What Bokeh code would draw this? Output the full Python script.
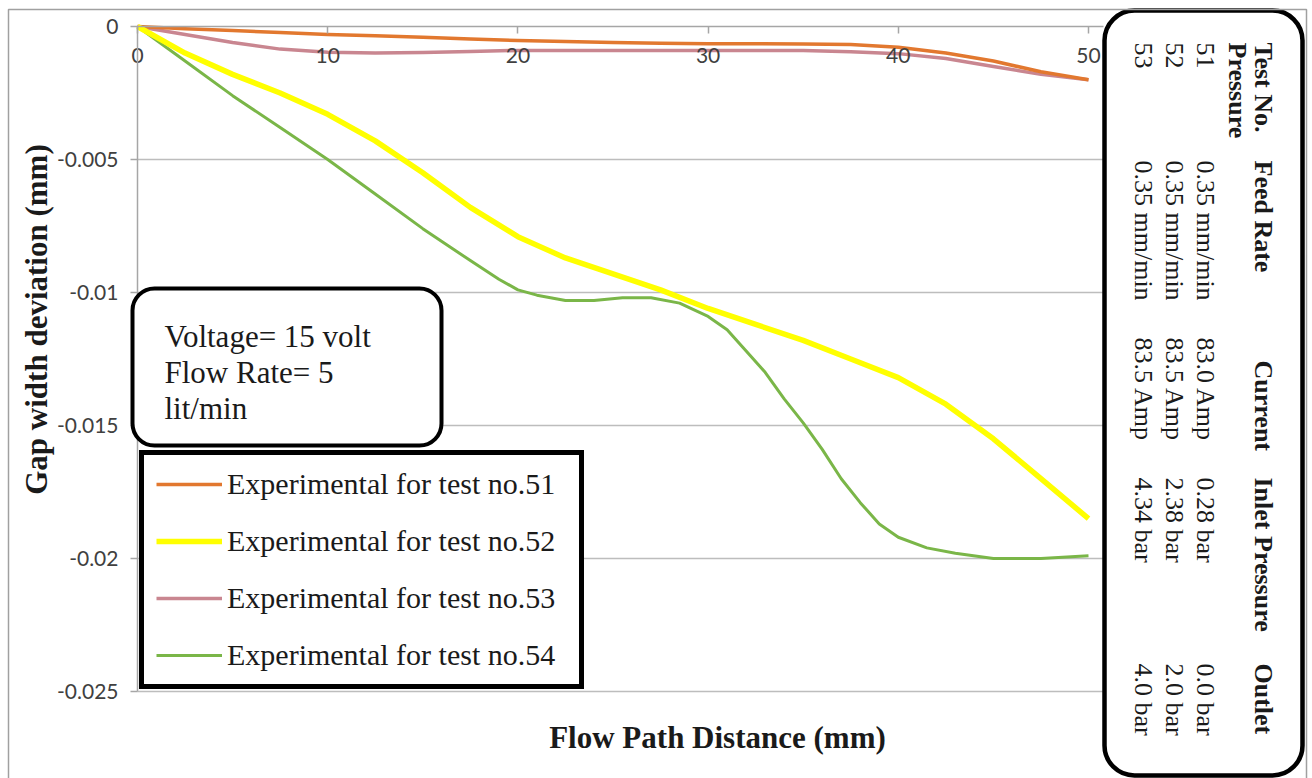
import math

from bokeh.embed import file_html
from bokeh.models import (BoxAnnotation, FixedTicker, Label, LinearAxis, Legend,
                          LegendItem, Range1d)
from bokeh.plotting import figure
from bokeh.resources import INLINE

# ---- data -------------------------------------------------------------
distance = [0, 2.5, 5, 7.5, 10, 12.5, 15, 17.5, 20, 22.5, 25,
            27.5, 30, 32.5, 35, 37.5, 40, 42.5, 45, 47.5, 50]

test51 = [0, -0.00008, -0.00015, -0.00023, -0.0003, -0.00035, -0.0004,
          -0.00047, -0.00053, -0.00056, -0.0006, -0.00063, -0.00065,
          -0.00065, -0.00066, -0.00068, -0.00078, -0.001, -0.0013,
          -0.0017, -0.002]
test52 = [0, -0.0010, -0.0018, -0.0025, -0.0033, -0.0043, -0.0055,
          -0.0068, -0.0079, -0.0087, -0.0093, -0.0099, -0.0106,
          -0.0112, -0.0118, -0.0125, -0.0132, -0.0142, -0.0155,
          -0.0170, -0.0185]
test53 = [0, -0.0003, -0.0006, -0.00085, -0.00097, -0.001, -0.00098,
          -0.00094, -0.0009, -0.0009, -0.0009, -0.0009, -0.0009,
          -0.0009, -0.0009, -0.00095, -0.00102, -0.0012, -0.0015,
          -0.0018, -0.002]

distance54 = [0, 2.5, 5, 7.5, 10, 12.5, 15, 17.5, 19, 20, 21, 22.5, 24,
              25.5, 27, 28.5, 30, 31, 32, 33, 34, 35, 36, 37, 38, 39, 40,
              41.5, 43, 45, 47.5, 50]
test54 = [0, -0.0013, -0.0026, -0.0038, -0.0050, -0.0063, -0.0076,
          -0.0088, -0.0095, -0.0099, -0.0101, -0.0103, -0.0103, -0.0102,
          -0.0102, -0.0104, -0.0109, -0.0114, -0.0122, -0.0130, -0.0140,
          -0.0149, -0.0159, -0.0170, -0.0179, -0.0187, -0.0192, -0.0196,
          -0.0198, -0.0200, -0.0200, -0.0199]

series_labels = ["Experimental for test no.51", "Experimental for test no.52",
                 "Experimental for test no.53", "Experimental for test no.54"]

x_ticks = [0, 10, 20, 30, 40, 50]
y_ticks = [0, -0.005, -0.01, -0.015, -0.02, -0.025]
y_tick_labels = {0: "0", -0.005: "-0.005", -0.01: "-0.01",
                 -0.015: "-0.015", -0.02: "-0.02", -0.025: "-0.025"}

# test-conditions table
table_header = ["Test No.", "Feed Rate", "Current", "Inlet Pressure", "Outlet"]
table_header2 = "Pressure"
test_no = ["51", "52", "53"]
feed_rate = ["0.35 mm/min", "0.35 mm/min", "0.35 mm/min"]
current = ["83.0 Amp", "83.5 Amp", "83.5 Amp"]
inlet_pressure = ["0.28 bar", "2.38 bar", "4.34 bar"]
outlet_pressure = ["0.0 bar", "2.0 bar", "4.0 bar"]

conditions = ["Voltage= 15 volt", "Flow Rate= 5", "lit/min"]

# ---- canvas geometry --------------------------------------------------
W, H = 1312, 778
X0_PX, X50_PX = 137, 1088      # pixel columns of x = 0 and x = 50
Y0_PX, Y25_PX = 26, 691        # pixel rows of y = 0 and y = -0.025
SX = (X50_PX - X0_PX) / 50.0
SY = (Y25_PX - Y0_PX) / 0.025


def dx(px):
    return (px - X0_PX) / SX


def dy(py):
    return -(py - Y0_PX) / SY


SERIF = "Liberation Serif"
SANS = "Lato"
GRID = "#bdbdbd"
AXIS = "#a6a6a6"
TICK_TEXT = "#404040"
INK = "#1a1a1a"

p = figure(width=W, height=H, x_range=Range1d(dx(0), dx(W)),
           y_range=Range1d(dy(H), dy(0)), x_axis_type=None, y_axis_type=None,
           toolbar_location=None, output_backend="svg", min_border=0,
           outline_line_color=None, background_fill_color="white",
           border_fill_color="white")

# horizontal gridlines, running under the conditions table
grid_y = y_ticks[1:]
p.segment(x0=[0] * len(grid_y), x1=[dx(1103)] * len(grid_y),
          y0=grid_y, y1=grid_y, line_color=GRID, line_width=1.5)

# axes crossing at the origin: x along the top, y down the left
xaxis = LinearAxis(fixed_location=0, ticker=FixedTicker(ticks=x_ticks),
                   bounds=(0, dx(1103)))
yaxis = LinearAxis(fixed_location=0, ticker=FixedTicker(ticks=y_ticks),
                   bounds=(y_ticks[-1], 0),
                   major_label_overrides=y_tick_labels)
for ax in (xaxis, yaxis):
    ax.axis_line_color = AXIS
    ax.axis_line_width = 1.5
    ax.major_tick_line_color = AXIS
    ax.major_tick_line_width = 1.5
    ax.major_tick_in = 0
    ax.major_tick_out = 7
    ax.minor_tick_line_color = None
    ax.major_label_text_font = SANS
    ax.major_label_text_font_size = "21px"
    ax.major_label_text_color = TICK_TEXT
xaxis.major_label_standoff = 14
yaxis.major_label_standoff = 12
p.add_layout(xaxis, "below")
p.add_layout(yaxis, "left")

# measured curves
r53 = p.line(distance, test53, line_color="#c98690", line_width=3.5,
             line_join="round")
r51 = p.line(distance, test51, line_color="#e2782f", line_width=3.5,
             line_join="round")
r54 = p.line(distance54, test54, line_color="#7ab648", line_width=3,
             line_join="round")
r52 = p.line(distance, test52, line_color="#ffff00", line_width=5.5,
             line_join="round")

legend = Legend(items=[LegendItem(label=series_labels[0], renderers=[r51]),
                       LegendItem(label=series_labels[1], renderers=[r52]),
                       LegendItem(label=series_labels[2], renderers=[r53]),
                       LegendItem(label=series_labels[3], renderers=[r54])],
                location=(139, H - 689), orientation="vertical",
                label_text_font=SERIF, label_text_font_size="30px",
                label_text_color=INK, label_standoff=5,
                glyph_width=66, glyph_height=34, label_height=34,
                label_width=340, spacing=23, padding=12, margin=0,
                border_line_color="black", border_line_alpha=1.0,
                border_line_width=5,
                background_fill_color="white", background_fill_alpha=1.0)
p.add_layout(legend)

# operating conditions box
p.add_layout(BoxAnnotation(left=dx(132), right=dx(441), top=dy(288),
                           bottom=dy(445), fill_color="white", fill_alpha=1,
                           line_color="black", line_alpha=1, line_width=4,
                           border_radius=22))
for i, line in enumerate(conditions):
    p.add_layout(Label(x=dx(164), y=dy(336 + 36 * i), text=line,
                       text_font=SERIF, text_font_size="31px",
                       text_color=INK, text_baseline="alphabetic"))

# test-conditions table, written sideways
p.add_layout(BoxAnnotation(left=dx(1104), right=dx(1302), top=dy(10),
                           bottom=dy(775), fill_color="white", fill_alpha=1,
                           line_color="black", line_alpha=1, line_width=4.5,
                           border_radius=30))
col_start = [42, 160, 337, 477, 663]
header_cols = [42, 160, 360, 477, 663]
for text, start in zip(table_header, header_cols):
    p.add_layout(Label(x=dx(1263), y=dy(start), text=text, angle=-math.pi / 2,
                       text_font=SERIF, text_font_size="26px",
                       text_font_style="bold", text_color=INK,
                       text_align="left", text_baseline="middle"))
p.add_layout(Label(x=dx(1237), y=dy(42), text=table_header2,
                   angle=-math.pi / 2, text_font=SERIF,
                   text_font_size="26px", text_font_style="bold",
                   text_color=INK, text_align="left",
                   text_baseline="middle"))
row_x = [1205, 1174, 1143]
for i, xr in enumerate(row_x):
    cells = [test_no[i], feed_rate[i], current[i], inlet_pressure[i],
             outlet_pressure[i]]
    for text, start in zip(cells, col_start):
        p.add_layout(Label(x=dx(xr), y=dy(start), text=text,
                           angle=-math.pi / 2, text_font=SERIF,
                           text_font_size="26px", text_color=INK,
                           text_align="left", text_baseline="middle"))

# axis titles
p.add_layout(Label(x=dx(717), y=dy(737), text="Flow Path Distance (mm)",
                   text_font=SERIF, text_font_size="31px",
                   text_font_style="bold", text_color=INK,
                   text_align="center", text_baseline="middle"))
p.add_layout(Label(x=dx(36), y=dy(319), text="Gap width deviation (mm)",
                   angle=math.pi / 2, text_font=SERIF, text_font_size="31px",
                   text_font_style="bold", text_color=INK,
                   text_align="center", text_baseline="middle"))

# chart border
p.add_layout(BoxAnnotation(left=dx(8), right=dx(1306), top=dy(9),
                           bottom=dy(800), fill_alpha=0, line_color="#a0a0a0",
                           line_alpha=1, line_width=1.5))

open("out.html", "w").write(file_html(p, INLINE))
